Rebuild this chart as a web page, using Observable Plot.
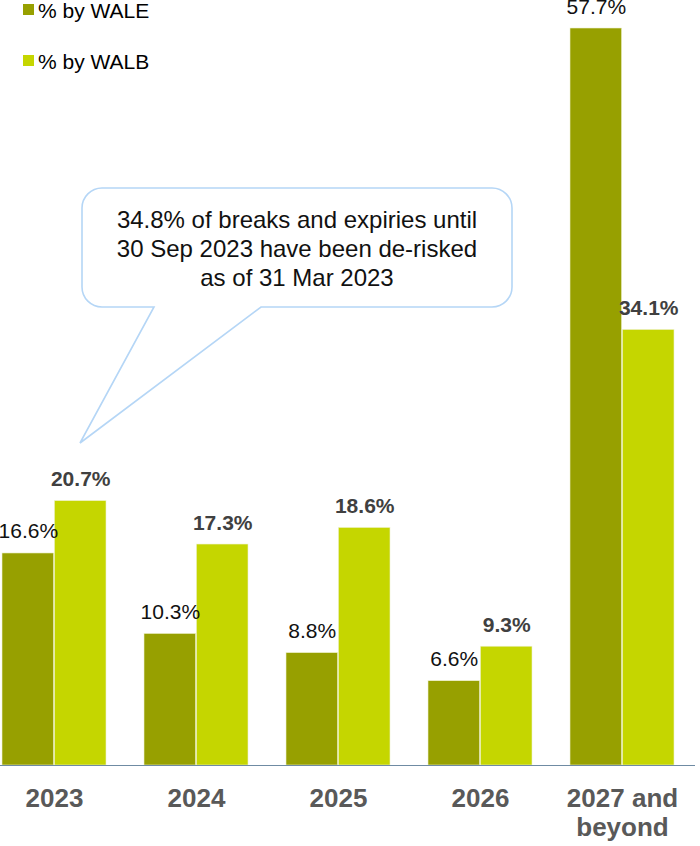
<!DOCTYPE html>
<html><head><meta charset="utf-8">
<script src="https://cdn.jsdelivr.net/npm/d3@7"></script>
<script src="https://cdn.jsdelivr.net/npm/@observablehq/plot@0.6"></script>
<style>
body{margin:0;background:#fff;font-family:"Liberation Sans",Arial,sans-serif;}
#wrap{position:relative;width:700px;height:846px;overflow:hidden;}
#chart svg{display:block;}
.lg{position:absolute;left:23px;height:22px;line-height:22px;font-size:21px;color:#000;white-space:nowrap;}
.lg span.sw{position:absolute;left:0;top:4px;width:11px;height:11px;}
.lg span.tx{position:absolute;left:15px;top:0;}
</style></head><body>
<div id="wrap"><div id="chart"></div></div>
<script>
const categories = ["2023", "2024", "2025", "2026", "2027 and beyond"];
const tickLabels = ["2023", "2024", "2025", "2026", "2027 and\nbeyond"];
const seriesNames = ["% by WALE", "% by WALB"];
const waleValues = [16.6, 10.3, 8.8, 6.6, 57.7];
const walbValues = [20.7, 17.3, 18.6, 9.3, 34.1];
const seriesColors = ["#97a000", "#c5d600"];
const calloutLines = ["34.8% of breaks and expiries until", "30 Sep 2023 have been de-risked", "as of 31 Mar 2023"];

const waleRows = categories.map((c, i) => ({cat: c, series: seriesNames[0], value: waleValues[i]}));
const walbRows = categories.map((c, i) => ({cat: c, series: seriesNames[1], value: walbValues[i]}));

const xOpts = {type: "band", domain: categories, range: [0, 676], paddingInner: 0.266, paddingOuter: 0};
const bw = Plot.scale({x: xOpts}).bandwidth;
const fmt = v => v.toFixed(1) + "%";

const chart = Plot.plot({
  width: 700,
  height: 846,
  marginLeft: 0,
  marginRight: 5,
  marginTop: 28,
  marginBottom: 81,
  style: {fontFamily: "Liberation Sans, Arial, sans-serif", background: "white"},
  x: {...xOpts, axis: null},
  y: {domain: [0, 57.7], axis: null},
  color: {domain: seriesNames, range: seriesColors},
  marks: [
    Plot.barY(waleRows, {x: "cat", y: "value", fill: "series", insetRight: bw / 2, stroke: "#eef2cf", strokeWidth: 0.6}),
    Plot.barY(walbRows, {x: "cat", y: "value", fill: "series", insetLeft: bw / 2, stroke: "#eef2cf", strokeWidth: 0.6}),
    Plot.ruleY([0], {stroke: "#6f8ba3", strokeWidth: 1.2}),
    Plot.text(waleRows, {x: "cat", y: "value", text: d => fmt(d.value), dx: -bw / 4, dy: -15, lineAnchor: "bottom", fontSize: 21, fill: "#111"}),
    Plot.text(walbRows, {x: "cat", y: "value", text: d => fmt(d.value), dx: bw / 4, dy: -15, lineAnchor: "bottom", fontSize: 21, fontWeight: "bold", fill: "#404040"}),
    Plot.axisX({tickSize: 0, tickPadding: 21, fontSize: 26, fontWeight: "bold", fill: "#595959", lineHeight: 1.12, label: null,
      tickFormat: d => tickLabels[categories.indexOf(d)]})
  ]
});
document.getElementById("chart").appendChild(chart);

// callout annotation
const svg = d3.select(chart);
const g = svg.append("g").attr("class", "callout");
const x0 = 82, x1 = 512, y0 = 188, y1 = 307, r = 20;
g.append("path")
  .attr("d", `M${x0 + r},${y0} H${x1 - r} A${r},${r} 0 0 1 ${x1},${y0 + r} V${y1 - r} A${r},${r} 0 0 1 ${x1 - r},${y1} H261 L80,443 L154,${y1} H${x0 + r} A${r},${r} 0 0 1 ${x0},${y1 - r} V${y0 + r} A${r},${r} 0 0 1 ${x0 + r},${y0} Z`)
  .attr("fill", "white").attr("stroke", "#b5d6f6").attr("stroke-width", 1.6);
g.selectAll("text").data(calloutLines).join("text")
  .attr("x", 297).attr("y", (d, i) => 228 + i * 29)
  .attr("text-anchor", "middle")
  .attr("font-size", 24).attr("fill", "#111")
  .attr("font-family", "Liberation Sans, Arial, sans-serif")
  .text(d => d);

// legend
const wrap = document.getElementById("wrap");
seriesNames.forEach((s, i) => {
  const row = document.createElement("div");
  row.className = "lg";
  row.style.top = (i === 0 ? 0 : 51) + "px";
  row.innerHTML = `<span class="sw" style="background:${seriesColors[i]}"></span><span class="tx">${s}</span>`;
  wrap.appendChild(row);
});
</script>
</body></html>
